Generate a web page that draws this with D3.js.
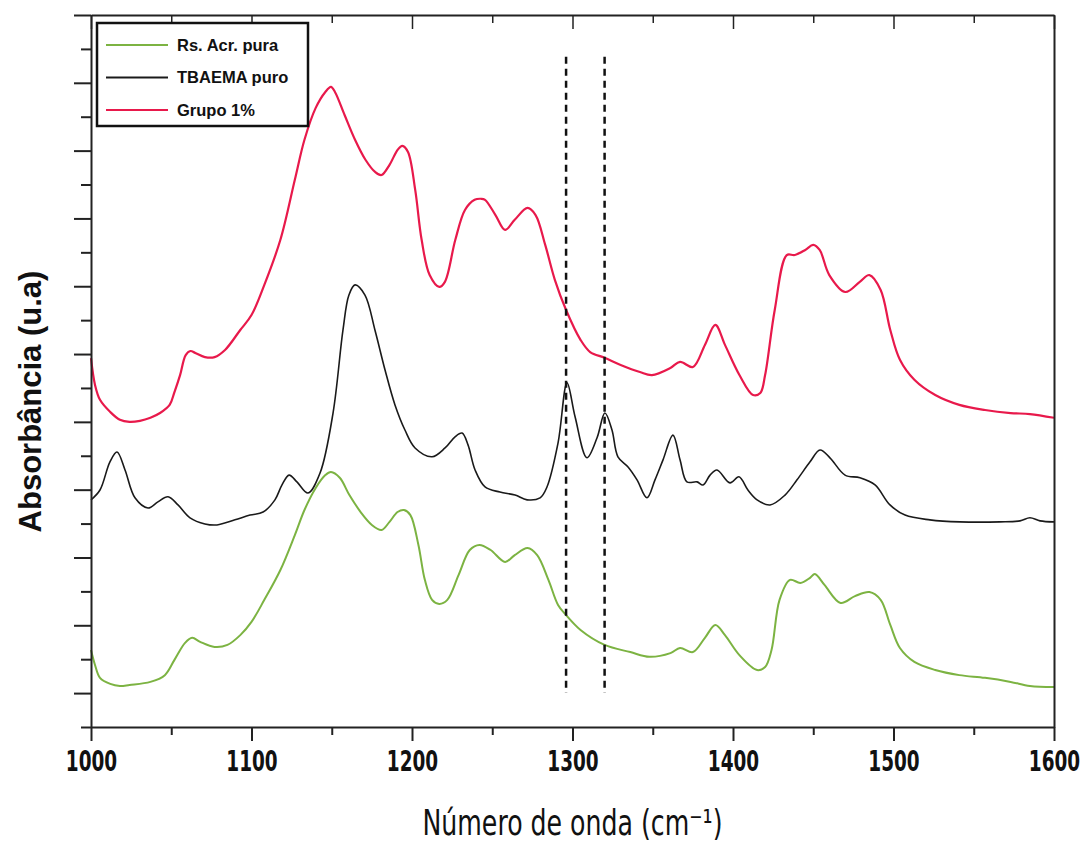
<!DOCTYPE html>
<html>
<head>
<meta charset="utf-8">
<script src="https://cdn.jsdelivr.net/npm/d3@7"></script>
<style>
  body { margin: 0; background: #fff; }
  .axis path, .axis line { stroke: #222; }
  .legend text { font-family: Arial, "Liberation Sans", sans-serif; font-weight: bold; font-size: 16.5px; }
</style>
</head>
<body>
<script>
// wavenumbers (cm-1) and absorbance (arbitrary units, stacked)
var grupoX = [1000,1002.5,1005.6,1012,1018,1024,1030.5,1037,1043,1049,1052,1055.5,1059,1062,1065,1071,1077,1083.5,1093,1100,1108,1118,1127,1133,1140,1146,1149.5,1152,1158,1164.5,1171,1177,1181,1186,1191,1194,1197.5,1202,1206,1211,1217,1220.5,1227,1233,1239,1243,1245.5,1252,1258,1264,1272,1277,1283,1289,1296,1305,1311,1320,1330,1342,1349.5,1361,1367,1375,1382.5,1389,1395,1404,1412.5,1417,1420,1426,1433.5,1438.5,1445,1450,1454,1460,1470,1479,1485,1492,1498,1504,1513,1526,1541,1557,1573,1585,1600];
var grupoY = [1.088,1.009,0.965,0.929,0.906,0.900,0.903,0.912,0.926,0.950,0.988,1.038,1.097,1.109,1.103,1.091,1.091,1.112,1.171,1.215,1.304,1.437,1.614,1.732,1.826,1.873,1.888,1.873,1.805,1.732,1.673,1.637,1.628,1.658,1.702,1.714,1.696,1.584,1.437,1.333,1.298,1.313,1.437,1.525,1.555,1.558,1.555,1.510,1.466,1.496,1.531,1.510,1.422,1.319,1.230,1.142,1.106,1.089,1.068,1.047,1.038,1.059,1.077,1.062,1.127,1.186,1.127,1.038,0.979,0.985,1.038,1.230,1.392,1.392,1.407,1.422,1.407,1.333,1.283,1.313,1.333,1.289,1.171,1.083,1.024,0.979,0.950,0.935,0.926,0.923,0.912];

var tbaemaX = [1000,1005.6,1011.8,1016.2,1021.2,1027.4,1035.5,1041.7,1048,1054.2,1061.7,1071,1078.5,1089.7,1099.1,1107.2,1114.6,1119,1123.4,1128.3,1135.2,1142.7,1150.8,1157,1160.7,1164.5,1170.7,1176.9,1183.2,1189.4,1195.6,1201.9,1212.5,1220.6,1226.8,1231.2,1234.9,1239.3,1245.5,1254.8,1264.2,1271.7,1279.8,1284.1,1291,1296.6,1301.6,1309,1315.3,1320.2,1324.6,1328.3,1334.6,1340.2,1346.4,1351.4,1356.4,1362.6,1367,1371.3,1377.6,1381.3,1385.7,1390,1398.1,1403.7,1409.3,1415,1423.1,1432.4,1439.9,1448,1454.2,1460.4,1469.8,1479.1,1488.5,1497.8,1507.2,1522.7,1541.4,1566.4,1578.8,1585,1591.3,1600];
var tbaemaY = [0.670,0.699,0.782,0.811,0.758,0.676,0.646,0.664,0.679,0.655,0.617,0.599,0.596,0.611,0.625,0.634,0.670,0.714,0.743,0.723,0.690,0.749,0.926,1.171,1.274,1.304,1.274,1.171,1.053,0.950,0.876,0.823,0.797,0.823,0.856,0.867,0.832,0.758,0.708,0.693,0.684,0.670,0.676,0.708,0.838,1.015,0.915,0.794,0.853,0.926,0.876,0.797,0.767,0.729,0.676,0.729,0.788,0.861,0.788,0.723,0.723,0.714,0.743,0.758,0.720,0.738,0.699,0.670,0.655,0.684,0.729,0.782,0.817,0.794,0.743,0.735,0.714,0.655,0.625,0.611,0.605,0.605,0.608,0.617,0.608,0.605];

var resinaX = [1000,1002.5,1005.6,1012,1018,1024,1037,1046,1052,1058.6,1063,1068,1077,1085,1093,1100,1108,1118,1127,1133,1140,1146,1149.5,1155,1161,1168,1175,1181,1186,1191,1195,1199,1204,1208,1212.5,1217,1222,1229,1236,1242,1249,1258,1264,1272,1278,1285,1291,1296,1305,1320,1336,1348,1361,1367,1375,1382.5,1389,1395,1404,1415,1420,1424,1429,1435.5,1442,1448,1451,1457,1467,1476,1485,1492,1498,1504,1513,1526,1541,1557,1573,1585,1600];
var resinaY = [0.227,0.183,0.145,0.127,0.121,0.124,0.133,0.153,0.198,0.248,0.263,0.251,0.236,0.242,0.271,0.310,0.375,0.463,0.566,0.640,0.705,0.743,0.752,0.735,0.684,0.634,0.596,0.581,0.605,0.634,0.640,0.625,0.537,0.434,0.375,0.363,0.375,0.448,0.522,0.537,0.522,0.487,0.507,0.528,0.507,0.434,0.360,0.330,0.286,0.242,0.221,0.207,0.218,0.233,0.221,0.263,0.301,0.271,0.212,0.168,0.177,0.227,0.375,0.434,0.425,0.440,0.451,0.419,0.366,0.386,0.398,0.375,0.301,0.233,0.192,0.168,0.153,0.145,0.133,0.121,0.118];

var seriesNames = ["Rs. Acr. pura", "TBAEMA puro", "Grupo 1%"];
var seriesColors = ["#7cb342", "#1a1a1a", "#e8194b"];
var markerLines = [1296, 1320];

var margin = {top: 15, right: 35, bottom: 120, left: 91},
    width = 1089 - margin.left - margin.right,
    height = 847 - margin.top - margin.bottom;

var x = d3.scaleLinear().domain([1000, 1600]).range([0, width]);
var y = d3.scaleLinear().domain([0, 2.1]).range([height, 0]);

var svg = d3.select("body").append("svg")
    .attr("width", 1089)
    .attr("height", 847)
  .append("g")
    .attr("transform", "translate(" + margin.left + "," + margin.top + ")");

var line = d3.line()
    .x(function(d) { return x(d[0]); })
    .y(function(d) { return y(d[1]); })
    .curve(d3.curveCatmullRom);

var series = [
  {name: seriesNames[0], color: seriesColors[0], w: 2, pts: d3.zip(resinaX, resinaY)},
  {name: seriesNames[1], color: seriesColors[1], w: 1.6, pts: d3.zip(tbaemaX, tbaemaY)},
  {name: seriesNames[2], color: seriesColors[2], w: 2.2, pts: d3.zip(grupoX, grupoY)}
];

svg.selectAll(".serie")
  .data(series)
  .enter().append("path")
    .attr("class", "serie")
    .attr("fill", "none")
    .attr("stroke", function(d) { return d.color; })
    .attr("stroke-width", function(d) { return d.w; })
    .attr("stroke-linejoin", "round")
    .attr("d", function(d) { return line(d.pts); });

// dashed reference lines
svg.selectAll(".marker")
  .data(markerLines)
  .enter().append("line")
    .attr("x1", function(d) { return x(d); })
    .attr("x2", function(d) { return x(d); })
    .attr("y1", y(1.977))
    .attr("y2", y(0.10))
    .attr("stroke", "#111")
    .attr("stroke-width", 2.5)
    .attr("stroke-dasharray", "7,5");

// axes
var xTicks = d3.range(1000, 1601, 50);
var xAxisBottom = svg.append("g")
    .attr("class", "axis")
    .attr("transform", "translate(0," + height + ")")
    .call(d3.axisBottom(x).tickValues(xTicks).tickSizeOuter(0)
      .tickFormat(function(d) { return d % 100 === 0 ? d : ""; }));
xAxisBottom.selectAll(".tick line")
    .attr("y2", function(d) { return d % 100 === 0 ? 14 : 8; })
    .attr("stroke-width", 2);
xAxisBottom.selectAll(".tick text")
    .attr("y", 21)
    .attr("dy", "0.71em")
    .attr("transform", "scale(0.82,1.14)")
    .style("font-family", "'Liberation Sans Narrow', 'Arial Narrow', 'DejaVu Sans Condensed', sans-serif")
    .style("font-weight", "bold")
    .style("font-size", "25px")
    .attr("fill", "#111");

var xAxisTop = svg.append("g")
    .attr("class", "axis")
    .call(d3.axisTop(x).tickValues(xTicks).tickSizeOuter(0).tickFormat(""));
xAxisTop.selectAll(".tick line")
    .attr("y2", function(d) { return d % 100 === 0 ? 14 : 8; })
    .attr("stroke-width", 1.5);

var yTicks = d3.range(0, 22).map(function(i) { return i / 10; });
var yAxisLeft = svg.append("g")
    .attr("class", "axis")
    .call(d3.axisLeft(y).tickValues(yTicks).tickSizeOuter(0).tickFormat(""));
yAxisLeft.selectAll(".tick line")
    .attr("x2", function(d) { return Math.round(d * 10) % 2 === 1 ? -17 : -10; })
    .attr("stroke-width", 2);

svg.append("g")
    .attr("class", "axis")
    .attr("transform", "translate(" + width + ",0)")
    .call(d3.axisRight(y).tickValues([]).tickSizeOuter(0));

svg.selectAll(".axis path").attr("stroke-width", 2);

// axis titles
svg.append("text")
    .attr("transform", "translate(" + x(1300) + "," + (height + 108) + ") scale(0.85,1.1)")
    .attr("text-anchor", "middle")
    .style("font-family", "'Liberation Sans Narrow', 'Arial Narrow', 'DejaVu Sans Condensed', sans-serif")
    .style("font-size", "33px")
    .attr("fill", "#111")
    .text("Número de onda (cm⁻¹)");

svg.append("text")
    .attr("transform", "translate(" + (-50) + "," + y(0.96) + ") rotate(-90)")
    .attr("text-anchor", "middle")
    .style("font-family", "Arial, 'Liberation Sans', sans-serif")
    .style("font-weight", "bold")
    .style("font-size", "31px")
    .attr("fill", "#111")
    .text("Absorbância (u.a)");

// legend
var legend = svg.append("g").attr("class", "legend").attr("transform", "translate(6,8)");
legend.append("rect")
    .attr("width", 211)
    .attr("height", 103)
    .attr("fill", "#fff")
    .attr("stroke", "#111")
    .attr("stroke-width", 2.5);
var item = legend.selectAll(".item")
  .data(series)
  .enter().append("g")
    .attr("class", "item")
    .attr("transform", function(d, i) { return "translate(0," + (22 + i * 32.5) + ")"; });
item.append("line")
    .attr("x1", 9).attr("x2", 71)
    .attr("stroke", function(d) { return d.color; })
    .attr("stroke-width", 2);
item.append("text")
    .attr("x", 80)
    .attr("dy", "0.35em")
    .attr("fill", "#111")
    .text(function(d) { return d.name; });
</script>
</body>
</html>
